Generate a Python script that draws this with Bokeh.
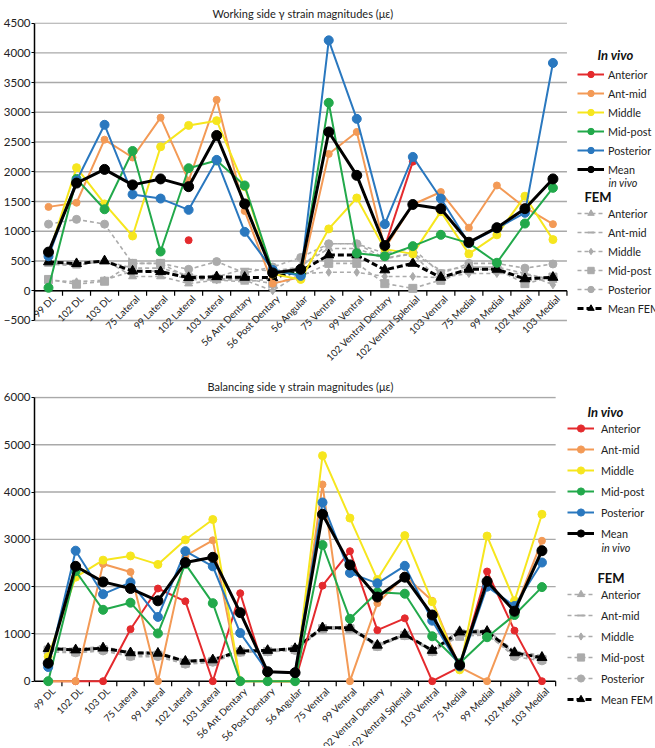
import math
from bokeh.plotting import figure
from bokeh.models import (ColumnDataSource, Range1d, FixedTicker, LabelSet, Label, Legend,
                          LegendItem)
from bokeh.layouts import column
from bokeh.embed import file_html
from bokeh.resources import INLINE
from bokeh.core.properties import value

nan = float("nan")

categories = ["99 DL", "102 DL", "103 DL", "75 Lateral", "99 Lateral", "102 Lateral",
              "103 Lateral", "56 Ant Dentary", "56 Post Dentary", "56 Angular",
              "75 Ventral", "99 Ventral", "102 Ventral Dentary", "102 Ventral Splenial",
              "103 Ventral", "75 Medial", "99 Medial", "102 Medial", "103 Medial"]

series_names = ["Anterior", "Ant-mid", "Middle", "Mid-post", "Posterior"]

# ---------------- Working side (top chart) ----------------
ws_anterior = [nan, nan, nan, nan, nan, 850, nan, nan, nan, nan, nan, nan, 740, 2170, nan, nan, nan, nan, nan]
ws_antmid = [1410, 1480, 2540, 2240, 2910, 1850, 3210, 1340, 120, 230, 2300, 2670, 710, 1450, 1660, 1060, 1770, 1400, 1120]
ws_middle = [600, 2070, 1460, 920, 2420, 2780, 2860, 1750, 280, 190, 1040, 1560, 700, 620, 1330, 620, 940, 1590, 860]
ws_midpost = [50, 1880, 1370, 2350, 660, 2060, 2190, 1770, 330, 270, 3160, 630, 580, 750, 940, 800, 470, 1130, 1730]
ws_posterior = [580, 1850, 2790, 1620, 1550, 1360, 2200, 990, 350, 250, 4210, 2890, 1120, 2250, 1550, 800, 1050, 1310, 3830]
ws_mean_invivo = [650, 1810, 2040, 1780, 1880, 1750, 2610, 1460, 300, 360, 2670, 1940, 760, 1450, 1380, 815, 1060, 1380, 1880]

ws_fem_anterior = [450, 420, 520, 240, 240, 120, 180, 150, 200, 420, 710, 710, 540, 620, 150, 400, 400, 290, 180]
ws_fem_antmid = [480, 430, 500, 380, 380, 260, 230, 370, 330, 400, 790, 790, 550, 630, 340, 400, 400, 160, 230]
ws_fem_middle = [180, 150, 180, 330, 330, 190, 180, 180, 0, 290, 310, 310, 240, 240, 220, 290, 290, 290, 100]
ws_fem_midpost = [190, 110, 160, 460, 460, 220, 200, 200, 120, 240, 460, 460, 120, 40, 180, 360, 360, 120, 230]
ws_fem_posterior = [1120, 1200, 1120, 460, 460, 360, 490, 300, 400, 560, 790, 790, 630, 710, 290, 460, 460, 380, 450]
ws_mean_fem = [485, 455, 500, 330, 320, 220, 235, 225, 220, 330, 600, 600, 350, 460, 225, 360, 360, 200, 225]

# ---------------- Balancing side (bottom chart) ----------------
bs_anterior = [0, 0, 0, 1100, 1960, 1690, 0, 1860, 0, 0, 2020, 2750, 1080, 1330, 0, 300, 2320, 1070, 0]
bs_antmid = [0, 0, 2480, 2310, 0, 2650, 2980, 0, 0, 0, 4160, 0, 1650, 2230, 1700, 300, 0, 1490, 2970]
bs_middle = [520, 2200, 2560, 2650, 2470, 2990, 3420, 0, 0, 0, 4770, 3450, 2150, 3080, 1680, 240, 3070, 1700, 3530]
bs_midpost = [0, 2330, 1510, 1660, 1010, 2480, 1650, 0, 0, 0, 2880, 1320, 1880, 1850, 950, 380, 930, 1400, 1990]
bs_posterior = [300, 2760, 1840, 2090, 1360, 2750, 2430, 1020, 200, 180, 3780, 2290, 2070, 2440, 1280, 310, 2000, 1590, 2510]
bs_mean_invivo = [380, 2430, 2100, 1960, 1700, 2510, 2620, 1450, 200, 180, 3530, 2460, 1780, 2200, 1400, 340, 2110, 1480, 2760]

bs_fem_anterior = [720, 690, 730, 620, 610, 440, 470, 650, 660, 700, 1150, 1150, 770, 1000, 660, 1080, 1080, 640, 540]
bs_fem_antmid = [700, 670, 710, 600, 600, 420, 450, 640, 650, 690, 1130, 1130, 760, 990, 650, 1060, 1060, 610, 510]
bs_fem_middle = [680, 650, 690, 580, 580, 400, 440, 630, 640, 680, 1120, 1120, 750, 980, 640, 1030, 1040, 590, 490]
bs_fem_midpost = [660, 620, 670, 540, 550, 380, 420, 620, 630, 670, 1110, 1110, 740, 970, 630, 950, 980, 550, 460]
bs_fem_posterior = [620, 600, 640, 520, 520, 360, 400, 610, 620, 650, 1100, 1100, 730, 960, 620, 990, 1000, 520, 430]
bs_mean_fem = [690, 660, 700, 600, 590, 420, 450, 640, 650, 690, 1130, 1130, 760, 990, 650, 1040, 1050, 600, 500]

ws_yticks = [-500, 0, 500, 1000, 1500, 2000, 2500, 3000, 3500, 4000, 4500]
bs_yticks = [0, 1000, 2000, 3000, 4000, 5000, 6000]

# ---------------- styles ----------------
FONT = "Lato"
TXT = "#222222"
invivo_colors = ["#e42a2d", "#f39a56", "#f6e61e", "#22a94b", "#2a78bf"]
invivo_sizes = [7, 7, 8, 9, 9]
fem_markers = ["triangle", "dash", "diamond", "square", "circle"]
GRAY = "#ababab"
GRID = "#a9a9a9"
xs = list(range(len(categories)))


def make_chart(title, invivo, mean_iv, fem, mean_fem, xrange, yrange, yticks, gridticks,
               height, b_top, title_off, title_standoff, tick_px, label_dy, leg):
    p = figure(width=655, height=height, x_range=Range1d(*xrange), y_range=Range1d(*yrange),
               output_backend="svg", toolbar_location=None,
               min_border_left=30, min_border_right=0, min_border_top=b_top,
               min_border_bottom=0)
    p.outline_line_color = None
    p.title.text = title
    p.title.align = "left"
    p.title.offset = title_off
    p.title.text_font = FONT
    p.title.text_font_size = "11px"
    p.title.text_font_style = "normal"
    p.title.text_color = TXT
    p.title.standoff = title_standoff

    p.xaxis.visible = False
    p.xgrid.visible = False
    p.ygrid.visible = False

    ax = p.yaxis[0]
    ax.ticker = FixedTicker(ticks=yticks)
    ax.bounds = (yticks[0], yticks[-1])
    ax.axis_line_color = "black"
    ax.axis_line_width = 1.5
    ax.major_tick_line_color = "black"
    ax.major_tick_line_width = 1.2
    ax.major_tick_out = 3
    ax.major_tick_in = 0
    ax.minor_tick_line_color = None
    ax.major_label_standoff = 1
    ax.major_label_text_font = FONT
    ax.major_label_text_font_size = "11.5px"
    ax.major_label_text_color = TXT

    n = len(categories)
    # horizontal gridlines only across the category area
    gsrc = ColumnDataSource(dict(y=gridticks, x0=[-0.5] * len(gridticks),
                                 x1=[n - 0.5] * len(gridticks)))
    p.segment(x0="x0", x1="x1", y0="y", y1="y", source=gsrc, line_color=GRID, line_width=1.4)

    # x axis line at zero and tick marks between categories
    p.segment(x0=[-0.5], x1=[n - 0.5], y0=[0], y1=[0], line_color="black", line_width=1.5)
    tick_len = tick_px * (yrange[1] - yrange[0]) / (height - b_top)
    tsrc = ColumnDataSource(dict(x=[x + 0.5 for x in xs], y0=[0] * n, y1=[-tick_len] * n))
    p.segment(x0="x", x1="x", y0="y0", y1="y1", source=tsrc, line_color="black",
              line_width=1.2)

    # category labels
    lsrc = ColumnDataSource(dict(x=xs, y=[0] * n, cat=categories))
    p.add_layout(LabelSet(x="x", y="y", text="cat", source=lsrc, angle=math.pi / 4,
                          text_align="right", text_baseline="middle", x_offset=5,
                          y_offset=label_dy, text_font=value(FONT), text_font_size="9.8px",
                          text_color=TXT))

    fem_items = []
    for vals, name, mk in zip(fem, series_names, fem_markers):
        src = ColumnDataSource(dict(x=xs, y=vals))
        lr = p.line("x", "y", source=src, line_color=GRAY, line_width=1.6, line_dash="4 3")
        sr = p.scatter("x", "y", source=src, marker=mk, size=8 if mk != "dash" else 9,
                       fill_color=GRAY, line_color=GRAY, line_width=2 if mk == "dash" else 1)
        fem_items.append(LegendItem(label=name, renderers=[lr, sr]))
    src = ColumnDataSource(dict(x=xs, y=mean_fem))
    lr = p.line("x", "y", source=src, line_color="black", line_width=3, line_dash="6 3")
    sr = p.scatter("x", "y", source=src, marker="triangle", size=10, fill_color="black",
                   line_color="black")
    fem_items.append(LegendItem(label="Mean FEM", renderers=[lr, sr]))

    iv_items = []
    for vals, name, col, sz in zip(invivo, series_names, invivo_colors, invivo_sizes):
        src = ColumnDataSource(dict(x=xs, y=vals))
        lr = p.line("x", "y", source=src, line_color=col, line_width=2)
        sr = p.scatter("x", "y", source=src, marker="circle", size=sz, fill_color=col,
                       line_color=col)
        iv_items.append(LegendItem(label=name, renderers=[lr, sr]))
    src = ColumnDataSource(dict(x=xs, y=mean_iv))
    lr = p.line("x", "y", source=src, line_color="black", line_width=3)
    sr = p.scatter("x", "y", source=src, marker="circle", size=10, fill_color="black",
                   line_color="black")
    iv_items.append(LegendItem(label="Mean", renderers=[lr, sr]))

    def legend(items, loc):
        return Legend(items=items, location=loc, orientation="vertical",
                      glyph_width=27, glyph_height=leg["lh"], label_height=leg["lh"],
                      label_standoff=leg["standoff"], spacing=3, padding=0, margin=0,
                      border_line_color=None, background_fill_alpha=0,
                      label_text_font=FONT, label_text_font_size="10.8px",
                      label_text_color=TXT)

    p.add_layout(legend(iv_items, (leg["vx"], leg["iv_y"])))
    p.add_layout(legend(fem_items, (leg["vx"], leg["fem_y"])))
    # second line of the "Mean in vivo" entry, in italics
    p.add_layout(Label(x=leg["vx"] + 27 + leg["standoff"], y=leg["iv2_y"], x_units="screen",
                       y_units="screen", text="in vivo", text_font=FONT,
                       text_font_size="10.8px", text_font_style="italic",
                       text_baseline="middle", text_color=TXT))
    p.add_layout(Label(x=leg["h1x"], y=leg["h1y"], x_units="screen", y_units="screen",
                       text="In vivo", text_font=FONT, text_font_size="13px",
                       text_font_style="bold italic", text_baseline="middle",
                       text_color="#111111"))
    p.add_layout(Label(x=leg["h2x"], y=leg["h2y"], x_units="screen", y_units="screen",
                       text="FEM", text_font=FONT, text_font_size="13px",
                       text_font_style="bold", text_baseline="middle",
                       text_color="#111111"))
    return p


p1 = make_chart("Working side \u03b3 strain magnitudes (\u03bc\u03b5)",
                [ws_anterior, ws_antmid, ws_middle, ws_midpost, ws_posterior], ws_mean_invivo,
                [ws_fem_anterior, ws_fem_antmid, ws_fem_middle, ws_fem_midpost, ws_fem_posterior],
                ws_mean_fem, (-0.5, 21.66), (-1240, 4510), ws_yticks, ws_yticks,
                height=364, b_top=22, title_off=178, title_standoff=5, tick_px=5, label_dy=-6,
                leg=dict(vx=543, iv_y=187, fem_y=48, lh=16, standoff=4, iv2_y=182,
                         h1x=563, h1y=310, h2x=550, h2y=168))

p2 = make_chart("Balancing side \u03b3 strain magnitudes (\u03bc\u03b5)",
                [bs_anterior, bs_antmid, bs_middle, bs_midpost, bs_posterior], bs_mean_invivo,
                [bs_fem_anterior, bs_fem_antmid, bs_fem_middle, bs_fem_midpost, bs_fem_posterior],
                bs_mean_fem, (-0.5, 22.14), (-1381, 6021), bs_yticks, bs_yticks[1:],
                height=382, b_top=32, title_off=173, title_standoff=7, tick_px=5, label_dy=-8,
                leg=dict(vx=533, iv_y=204, fem_y=38, lh=18, standoff=7, iv2_y=199,
                         h1x=553, h1y=335, h2x=563, h2y=169))

layout = column(p1, p2)
open("out.html", "w").write(file_html(layout, INLINE))
